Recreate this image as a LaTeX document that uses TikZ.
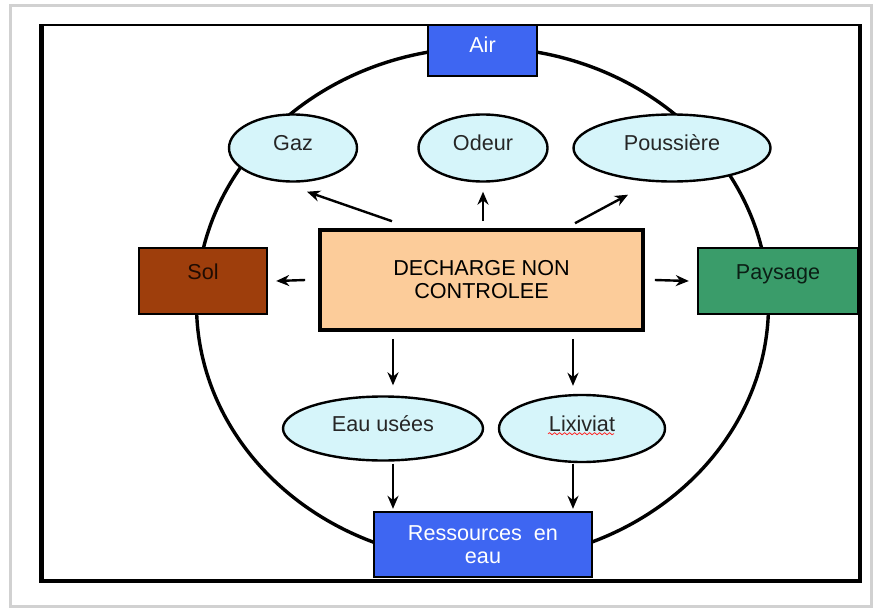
\documentclass[tikz,border=0pt]{standalone}
\usepackage{fontspec}
\setmainfont{Liberation Sans}
\usetikzlibrary{shapes.geometric,arrows.meta,decorations.pathmorphing}
\definecolor{bleu}{RGB}{62,102,242}
\definecolor{brun}{RGB}{158,62,12}
\definecolor{vert}{RGB}{58,156,106}
\definecolor{peche}{RGB}{252,204,154}
\definecolor{ciel}{RGB}{214,245,250}
\tikzset{every node/.style={font=\fontsize{10.8}{11.5}\selectfont, inner sep=0pt, align=center}}
\tikzset{box/.style={rectangle, draw, line width=1.2pt},
  blob/.style={ellipse, draw, line width=1.2pt, fill=ciel, text=black!85, minimum height=33.5pt, text height=8pt, text depth=5.2pt}}

\begin{document}
\begin{tikzpicture}[x=0.5pt, y=-0.5pt, >={Stealth[length=6.5pt, width=5.5pt]}]
\useasboundingbox (0,0) rectangle (877,610);
\fill[white] (0,0) rectangle (877,610);
\draw[black!18, line width=1.5pt] (10,6) rectangle (871,606);
\draw[line width=1pt] (40,25) rectangle (861,582);
\draw[line width=2.4pt] (42,26) -- (42,581) -- (860,581) -- (860,26);
\draw[line width=1.7pt] (482.5,304.5) ellipse [x radius=286, y radius=257];
\node[box, fill=bleu, text=white, minimum width=54.5pt, minimum height=25.5pt, text height=8pt, text depth=6.2pt] (Air) at (482.5,50.5) {Air};
\node[blob, minimum width=64pt] (Gaz) at (293,148) {Gaz};
\node[blob, minimum width=64.5pt] (Odeur) at (483,148) {Odeur};
\node[blob, minimum width=98.5pt] (Pouss) at (672,148) {Poussière};
\node[box, fill=brun, text=black!80!brun, minimum width=64pt, minimum height=33pt, text height=8pt, text depth=10pt] (Sol) at (203,281) {Sol};
\node[box, fill=peche, line width=1.8pt, minimum width=161.5pt, minimum height=50pt] (DNC) at (481.5,280) {DECHARGE NON\\CONTROLEE};
\node[box, fill=vert, text=black!80!vert, minimum width=80pt, minimum height=33pt, text height=8pt, text depth=10pt] (Pays) at (778,281) {Paysage};
\node[blob, minimum width=100pt, minimum height=32pt] (Eau) at (383,428.5) {Eau usées};
\node[blob, minimum width=83pt] (Lix) at (582,428.5) {Lixiviat};
\node[box, fill=bleu, text=white, minimum width=109pt, minimum height=32.5pt] (Res) at (483,544.5) {Ressources\ \ en\\eau};
\draw[red!85, line width=0.4pt, decorate, decoration={snake, amplitude=0.5pt, segment length=2.5pt}] ([xshift=-17pt, yshift=-2.6pt]Lix.center) -- ([xshift=16pt, yshift=-2.6pt]Lix.center);
\draw[->, line width=1.2pt] ([xshift=-44.75pt, yshift=3.5pt]DNC.north) -- ([xshift=7pt, yshift=-4.5pt]Gaz.south);
\draw[->, line width=1.2pt] ([xshift=0.75pt, yshift=3.5pt]DNC.north) -- ([yshift=-4.5pt]Odeur.south);
\draw[->, line width=1.2pt] ([xshift=46.75pt, yshift=2.5pt]DNC.north) -- ([xshift=-22pt, yshift=-6pt]Pouss.south);
\draw[->, line width=1.2pt] ([xshift=-6.5pt]DNC.west) -- ([xshift=4pt]Sol.east);
\draw[->, line width=1.2pt] ([xshift=5pt]DNC.east) -- ([xshift=-4pt]Pays.west);
\draw[->, line width=1.2pt] ([xshift=-44.25pt, yshift=-3.5pt]DNC.south) -- ([xshift=5pt, yshift=5pt]Eau.north);
\draw[->, line width=1.2pt] ([xshift=45.75pt, yshift=-3.5pt]DNC.south) -- ([xshift=-4.5pt, yshift=4pt]Lix.north);
\draw[->, line width=1.2pt] ([xshift=5pt, yshift=-1pt]Eau.south) -- ([xshift=-45pt, yshift=1pt]Res.north);
\draw[->, line width=1.2pt] ([xshift=-4.5pt, yshift=-0.5pt]Lix.south) -- ([xshift=45pt, yshift=1pt]Res.north);
\end{tikzpicture}
\end{document}
